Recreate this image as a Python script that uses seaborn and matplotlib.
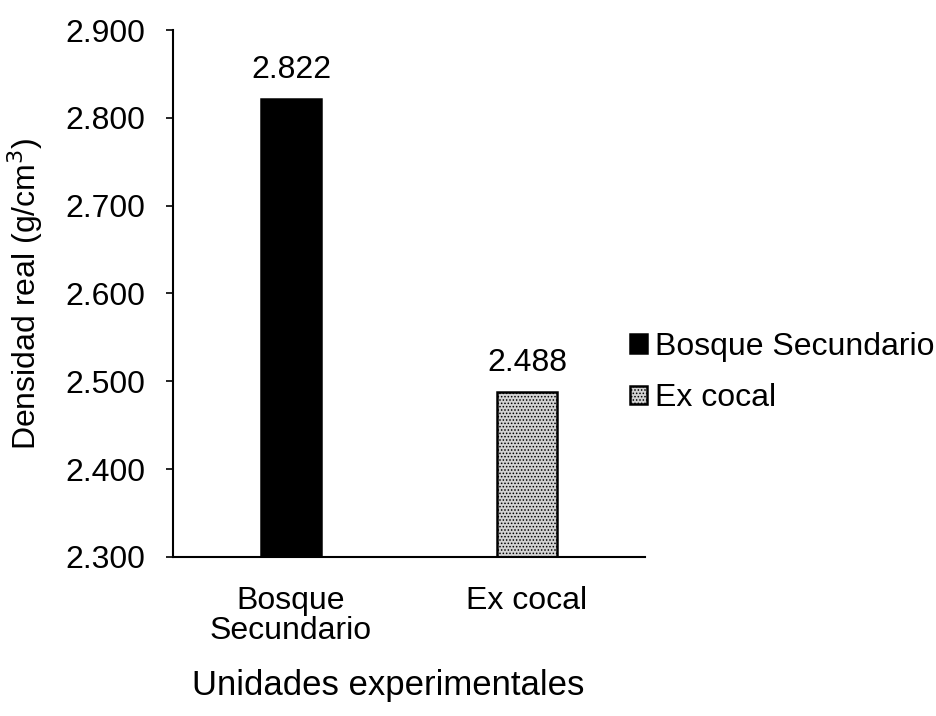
import matplotlib
matplotlib.use('Agg')
import matplotlib.pyplot as plt
import pandas as pd
import seaborn as sns

# Data
categorias = ['Bosque\nSecundario', 'Ex cocal']
series = ['Bosque Secundario', 'Ex cocal']
densidad = [2.822, 2.488]
yticks = [2.3, 2.4, 2.5, 2.6, 2.7, 2.8, 2.9]

df = pd.DataFrame({'unidad': categorias, 'serie': series, 'densidad': densidad})

sns.set_style('white')
plt.rcParams['font.family'] = ['Liberation Sans', 'DejaVu Sans']
plt.rcParams.update({
    'text.color': 'black', 'axes.labelcolor': 'black',
    'xtick.color': 'black', 'ytick.color': 'black',
    'hatch.color': '#454545', 'hatch.linewidth': 0.7,
})

fig = plt.figure(figsize=(9.37, 7.16), dpi=100)
ax = fig.add_axes([0.1846, 0.2221, 0.5037, 0.736])

sns.barplot(data=df, x='unidad', y='densidad', hue='serie',
            palette=['black', '#d2d2d2'], dodge=False, width=0.254,
            edgecolor='black', linewidth=1.8, ax=ax, legend=True)

# stippled texture for the second bar
ax.patches[1].set_hatch('.....')

for c in ax.containers:
    ax.bar_label(c, fmt='%.3f', padding=10, fontsize=23)

ax.set_ylim(2.3, 2.9)
ax.set_yticks(yticks)
ax.set_yticklabels([f'{v:.3f}' for v in yticks])
ax.tick_params(axis='y', labelsize=23, length=5, width=1.2, direction='out',
               left=True, pad=15)
ax.tick_params(axis='x', labelsize=23, length=0, pad=21)
for lbl in ax.get_xticklabels():
    lbl.set_linespacing(1.0)

for s in ['top', 'right']:
    ax.spines[s].set_visible(False)
for s in ['left', 'bottom']:
    ax.spines[s].set_color('black')
    ax.spines[s].set_linewidth(1.5)

ax.set_ylabel('Densidad real (g/cm$^3$)', fontsize=23)
ax.yaxis.set_label_coords(-0.271, 0.5)
ax.set_xlabel('Unidades experimentales', fontsize=25)
ax.xaxis.set_label_coords(0.455, -0.212)

leg = ax.legend(loc='center left', bbox_to_anchor=(0.6724, 0.4797),
                bbox_transform=fig.transFigure, frameon=False, fontsize=23,
                handlelength=0.53, handleheight=0.53, handletextpad=0.25,
                labelspacing=0.67, borderpad=0, borderaxespad=0)
leg.legend_handles[1].set_hatch('.....')
leg.legend_handles[1].set_edgecolor('black')

fig.savefig('out.png', dpi=100)
